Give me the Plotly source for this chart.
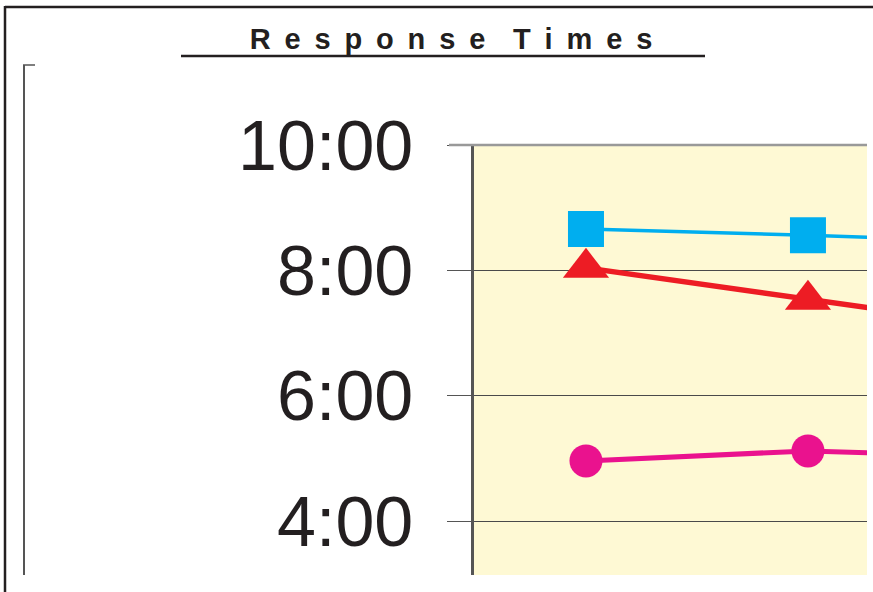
import plotly.graph_objects as go

# Response times (minutes) per reporting period
periods = [1, 2, 3]
blue_minutes = [8.66, 8.56, 8.44]
red_minutes = [8.04, 7.53, 7.04]
magenta_minutes = [4.96, 5.12, 5.01]

tick_values = [4, 6, 8, 10]
tick_labels = ["4:00", "6:00", "8:00", "10:00"]

W, H = 873, 592
L, R, T, B = 474, 6, 145, 17
PW, PH = W - L - R, H - T - B


def px(x):
    return (x - L) / PW


def py(y):
    return 1 - (y - T) / PH


INK = "#231F20"
FONT = "Arial, Liberation Sans, sans-serif"

fig = go.Figure()

fig.add_trace(go.Scatter(
    x=periods, y=blue_minutes, mode="lines+markers",
    line=dict(color="#00AEEF", width=3.5),
    marker=dict(symbol="square", size=36, color="#00AEEF"),
    cliponaxis=True, showlegend=False,
))
fig.add_trace(go.Scatter(
    x=periods, y=red_minutes, mode="lines+markers",
    line=dict(color="#ED1C24", width=5.5),
    marker=dict(symbol="triangle-up", size=40, color="#ED1C24"),
    cliponaxis=True, showlegend=False,
))
fig.add_trace(go.Scatter(
    x=periods, y=magenta_minutes, mode="lines+markers",
    line=dict(color="#EA128E", width=5),
    marker=dict(symbol="circle", size=33, color="#EA128E"),
    cliponaxis=True, showlegend=False,
))

# letter-spaced title
letter_gap = "\u00a0\u2009"
title_text = (letter_gap * 2).join(
    letter_gap.join(list(word)) for word in "Response Times".split()
)

fig.update_layout(
    width=W, height=H,
    margin=dict(l=L, r=R, t=T, b=B, pad=0),
    paper_bgcolor="white",
    plot_bgcolor="#FEF9D4",
    font=dict(family=FONT, color=INK),
    title=dict(
        text=title_text,
        x=451 / W, xanchor="center",
        y=1 - 39 / H, yanchor="middle",
        font=dict(size=29, family=FONT, color=INK, weight="bold"),
    ),
    xaxis=dict(
        range=[0.4955, 2.266],
        showgrid=False, zeroline=False, showline=False,
        showticklabels=False, ticks="",
    ),
    yaxis=dict(
        range=[3.14, 10.0],
        tickvals=tick_values, ticktext=tick_labels,
        tickfont=dict(size=70, family=FONT, color=INK),
        ticks="outside", ticklen=24, tickwidth=1.3, tickcolor="#555555",
        ticklabelstandoff=20,
        showgrid=True, gridcolor="#4a4a4a", gridwidth=1.2,
        zeroline=False,
        showline=True, linecolor="#555555", linewidth=2.5,
    ),
    shapes=[
        # top edge of the plot box, with its tick
        dict(type="line", xref="paper", yref="paper",
             x0=px(449), x1=1, y0=1, y1=1,
             line=dict(color="#999999", width=2.5)),
        # title underline
        dict(type="line", xref="paper", yref="paper",
             x0=px(181), x1=px(705), y0=py(56), y1=py(56),
             line=dict(color=INK, width=2.5)),
        # outer frame (top and left)
        dict(type="line", xref="paper", yref="paper",
             x0=px(5), x1=px(880), y0=py(7), y1=py(7),
             line=dict(color=INK, width=2.5)),
        dict(type="line", xref="paper", yref="paper",
             x0=px(5), x1=px(5), y0=py(6), y1=py(600),
             line=dict(color=INK, width=2.5)),
        # inner bracket on the left
        dict(type="line", xref="paper", yref="paper",
             x0=px(24), x1=px(24), y0=py(65), y1=py(575),
             line=dict(color="#555555", width=2)),
        dict(type="line", xref="paper", yref="paper",
             x0=px(23), x1=px(35), y0=py(65), y1=py(65),
             line=dict(color="#555555", width=1.5)),
    ],
)

fig.write_html("out.html")
